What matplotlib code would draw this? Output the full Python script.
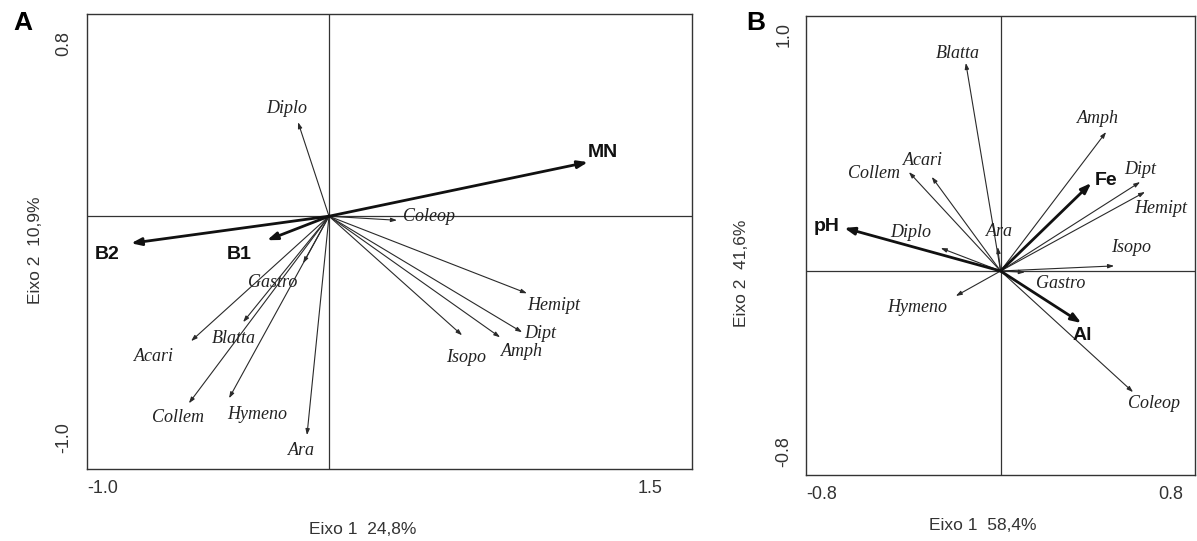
import matplotlib
matplotlib.use('Agg')
import matplotlib.pyplot as plt

# Painel A - escores (eixo 1, eixo 2)
esp_a = ['Diplo', 'Coleop', 'Hemipt', 'Dipt', 'Amph', 'Isopo', 'Gastro',
         'Blatta', 'Acari', 'Collem', 'Hymeno', 'Ara']
esp_a_x = [-0.128, 0.281, 0.818, 0.798, 0.707, 0.550, -0.107, -0.355, -0.570, -0.579, -0.413, -0.091]
esp_a_y = [0.372, -0.016, -0.305, -0.459, -0.479, -0.471, -0.186, -0.419, -0.494, -0.740, -0.720, -0.866]
amb_a = ['MN', 'B2', 'B1']
amb_a_x = [1.070, -0.818, -0.256]
amb_a_y = [0.214, -0.107, -0.095]
lim_a_x = [-1.0, 1.5]
lim_a_y = [-1.0, 0.8]

# Painel B
esp_b = ['Blatta', 'Amph', 'Dipt', 'Hemipt', 'Isopo', 'Collem', 'Acari', 'Diplo',
         'Ara', 'Gastro', 'Hymeno', 'Coleop']
esp_b_x = [-0.143, 0.434, 0.574, 0.594, 0.467, -0.377, -0.283, -0.246, -0.012, 0.100, -0.184, 0.545]
esp_b_y = [0.816, 0.545, 0.349, 0.310, 0.020, 0.388, 0.369, 0.090, 0.094, -0.005, -0.098, -0.475]
amb_b = ['Fe', 'pH', 'Al']
amb_b_x = [0.373, -0.643, 0.332]
amb_b_y = [0.345, 0.169, -0.204]
lim_b_x = [-0.8, 0.8]
lim_b_y = [-0.8, 1.0]

# posicao dos rotulos (offset em pontos relativos a ponta da seta)
off_a = {'Diplo': (-8, 10), 'Coleop': (23, 3), 'Hemipt': (19, -9), 'Dipt': (13, -1),
         'Amph': (16, -10), 'Isopo': (3, -16), 'Gastro': (-22, -14), 'Blatta': (-7, -12),
         'Acari': (-27, -11), 'Collem': (-8, -10), 'Hymeno': (20, -12), 'Ara': (-4, -11),
         'MN': (11, 7), 'B2': (-17, -8), 'B1': (-20, -10)}
off_b = {'Blatta': (-6, 7), 'Amph': (-6, 10), 'Dipt': (0, 9), 'Hemipt': (11, -12),
         'Isopo': (12, 13), 'Collem': (-25, -1), 'Acari': (-6, 12), 'Diplo': (-22, 11),
         'Ara': (1, 11), 'Gastro': (26, -8), 'Hymeno': (-28, -8), 'Coleop': (15, -8),
         'Fe': (11, 2), 'pH': (-13, 1), 'Al': (1, -9)}

cor_linha = '#333333'


def painel(ax, ex, ey, en, vx, vy, vn, lx, ly, off):
    ax.set_xlim(lx)
    ax.set_ylim(ly)
    ax.axhline(0, color=cor_linha, lw=0.9)
    ax.axvline(0, color=cor_linha, lw=0.9)
    for n, x, y in zip(en, ex, ey):
        ax.annotate('', xy=(x, y), xytext=(0, 0),
                    arrowprops=dict(arrowstyle='-|>,head_length=0.35,head_width=0.12',
                                    color='#2a2a2a', lw=0.8, shrinkA=0, shrinkB=0))
        dx, dy = off[n]
        ax.annotate(n, xy=(x, y), xytext=(dx, dy), textcoords='offset points',
                    ha='center', va='center', fontsize=13, style='italic',
                    family='Liberation Serif', color='#222222')
    for n, x, y in zip(vn, vx, vy):
        ax.annotate('', xy=(x, y), xytext=(0, 0),
                    arrowprops=dict(arrowstyle='-|>,head_length=0.6,head_width=0.22',
                                    color='#111111', lw=2.0, shrinkA=0, shrinkB=0))
        dx, dy = off[n]
        ax.annotate(n, xy=(x, y), xytext=(dx, dy), textcoords='offset points',
                    ha='center', va='center', fontsize=14, fontweight='bold',
                    family='Liberation Sans', color='#111111')
    ax.set_xticks([])
    ax.set_yticks([])
    for s in ax.spines.values():
        s.set_color(cor_linha)
        s.set_linewidth(1.0)


plt.rcParams['font.family'] = ['Liberation Sans', 'DejaVu Sans']
fig = plt.figure(figsize=(11.97, 5.41), dpi=100)
tam = 13
tam_eixo = 12.5

ax1 = fig.add_axes([0.0727, 0.1331, 0.5054, 0.8410])
painel(ax1, esp_a_x, esp_a_y, esp_a, amb_a_x, amb_a_y, amb_a, lim_a_x, lim_a_y, off_a)
ax1.text(0.0, -0.025, f'{lim_a_x[0]:.1f}', transform=ax1.transAxes, ha='left', va='top', fontsize=tam, color='#333333')
ax1.text(0.952, -0.025, f'{lim_a_x[1]:.1f}', transform=ax1.transAxes, ha='right', va='top', fontsize=tam, color='#333333')
ax1.text(-0.025, 0.935, f'{lim_a_y[1]:.1f}', transform=ax1.transAxes, ha='right', va='center', rotation=90, fontsize=tam, color='#333333')
ax1.text(-0.025, 0.07, f'{lim_a_y[0]:.1f}', transform=ax1.transAxes, ha='right', va='center', rotation=90, fontsize=tam, color='#333333')
ax1.text(0.455, -0.132, 'Eixo 1  24,8%', transform=ax1.transAxes, ha='center', va='center', fontsize=tam_eixo, color='#333333')
ax1.text(-0.085, 0.48, 'Eixo 2  10,9%', transform=ax1.transAxes, ha='center', va='center', rotation=90, fontsize=tam_eixo, color='#333333')
fig.text(0.019, 0.958, 'A', fontsize=19, fontweight='bold', ha='center', va='center')

ax2 = fig.add_axes([0.6734, 0.1220, 0.3250, 0.8484])
painel(ax2, esp_b_x, esp_b_y, esp_b, amb_b_x, amb_b_y, amb_b, lim_b_x, lim_b_y, off_b)
ax2.text(0.0, -0.025, f'{lim_b_x[0]:.1f}', transform=ax2.transAxes, ha='left', va='top', fontsize=tam, color='#333333')
ax2.text(0.97, -0.025, f'{lim_b_x[1]:.1f}', transform=ax2.transAxes, ha='right', va='top', fontsize=tam, color='#333333')
ax2.text(-0.035, 0.96, f'{lim_b_y[1]:.1f}', transform=ax2.transAxes, ha='right', va='center', rotation=90, fontsize=tam, color='#333333')
ax2.text(-0.035, 0.05, f'{lim_b_y[0]:.1f}', transform=ax2.transAxes, ha='right', va='center', rotation=90, fontsize=tam, color='#333333')
ax2.text(0.455, -0.11, 'Eixo 1  58,4%', transform=ax2.transAxes, ha='center', va='center', fontsize=tam_eixo, color='#333333')
ax2.text(-0.165, 0.44, 'Eixo 2  41,6%', transform=ax2.transAxes, ha='center', va='center', rotation=90, fontsize=tam_eixo, color='#333333')
fig.text(0.631, 0.958, 'B', fontsize=19, fontweight='bold', ha='center', va='center')

fig.savefig('out.png', dpi=100)
